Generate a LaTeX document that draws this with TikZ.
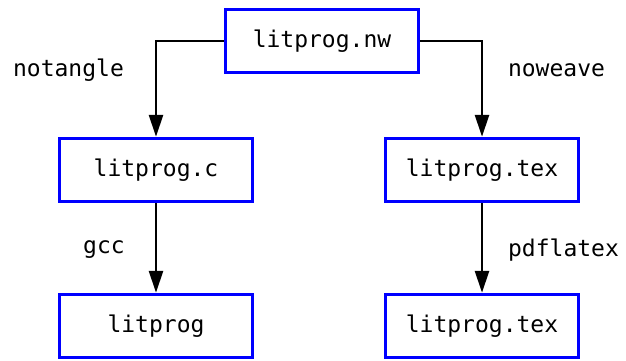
\documentclass[tikz,border=0pt]{standalone}
\usepackage{fontspec}
\setmonofont{DejaVu Sans Mono}
\usetikzlibrary{arrows.meta}

\begin{document}
\begin{tikzpicture}[
        x=0.5pt, y=-0.5pt, % 1 unit = 1 px of the sketch
        file/.style={draw=blue, line width=1.75pt, minimum width=96.5pt, minimum height=31.5pt,
            font=\ttfamily\fontsize{11.5}{14}\selectfont}, % Files
        tool/.style={font=\ttfamily\fontsize{11.5}{14}\selectfont}, % Commands
        flow/.style={line width=1.4pt, -{Triangle[length=11pt, width=7pt]}},
    ]
    \useasboundingbox (0,0) rectangle (626,360);

    \node[file] (nw) at (322, 41) {litprog.nw};
    \node[file] (c) at (156, 170) {litprog.c};
    \node[file] (tex) at (482, 170) {litprog.tex};
    \node[file] (bin) at (156, 326) {litprog};
    \node[file] (pdf) at (482, 326) {litprog.tex};

    \node[tool] (tangle) at (68.5, 70) {notangle};
    \node[tool] (weave) at (556.5, 70) {noweave};
    \node[tool] (gcc) at (104, 250) {gcc};
    \node[tool] (latex) at (563.5, 250) {pdflatex};

    \draw[flow] (nw.west) -| (c.north);
    \draw[flow] (nw.east) -| (tex.north);
    \draw[flow] (c) -- (bin);
    \draw[flow] (tex) -- (pdf);
\end{tikzpicture}
\end{document}
